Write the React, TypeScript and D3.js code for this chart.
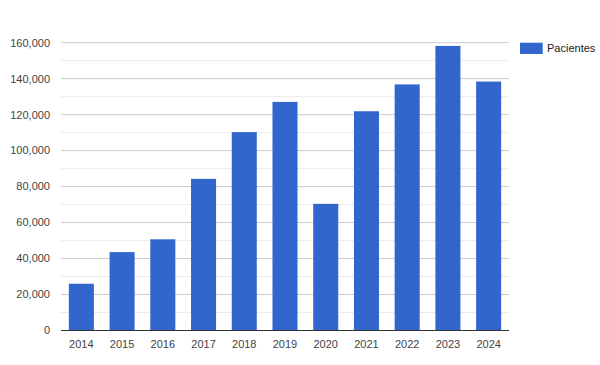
import React from 'react';
import * as d3 from 'd3';

const years = ['2014', '2015', '2016', '2017', '2018', '2019', '2020', '2021', '2022', '2023', '2024'];
const pacientes = [26000, 43600, 50700, 84300, 110300, 127100, 70400, 121900, 136800, 158200, 138400];
const yTicks = [0, 20000, 40000, 60000, 80000, 100000, 120000, 140000, 160000];
const seriesName = 'Pacientes';

const App = () => {
  const width = 600;
  const height = 365;
  const margin = { top: 42.7, right: 91, bottom: 34.5, left: 61 };

  const x = d3.scaleBand()
    .domain(years)
    .range([margin.left, width - margin.right])
    .paddingInner(0.385)
    .paddingOuter(0.1925);

  const y = d3.scaleLinear()
    .domain([0, 160000])
    .range([height - margin.bottom, margin.top]);

  // minor gridlines halfway between the labelled ones
  const minorTicks = d3.range(10000, 160000, 20000);
  const fmt = d3.format(',');
  const font = 'Arial, "Liberation Sans", sans-serif';

  return (
    <svg width={width} height={height} style={{ position: 'absolute', left: 0, top: 0, background: '#fff' }}>
      <g>
        {minorTicks.map(t => (
          <line key={'m' + t} x1={margin.left} x2={width - margin.right} y1={y(t)} y2={y(t)} stroke="#ebebeb" />
        ))}
        {yTicks.filter(t => t > 0).map(t => (
          <line key={'g' + t} x1={margin.left} x2={width - margin.right} y1={y(t)} y2={y(t)} stroke="#cccccc" />
        ))}
      </g>
      <g>
        {years.map((yr, i) => (
          <rect key={yr} x={x(yr)} y={y(pacientes[i])} width={x.bandwidth()} height={y(0) - y(pacientes[i])} fill="#3366cc" />
        ))}
      </g>
      <line x1={margin.left} x2={width - margin.right} y1={y(0)} y2={y(0)} stroke="#333" />
      <g fontFamily={font} fontSize={11} fill="#444">
        {yTicks.map(t => (
          <text key={'y' + t} x={50} y={y(t)} dy="0.35em" textAnchor="end">{fmt(t)}</text>
        ))}
        {years.map(yr => (
          <text key={'x' + yr} x={(x(yr) as number) + x.bandwidth() / 2} y={348.4} textAnchor="middle">{yr}</text>
        ))}
      </g>
      <g>
        <rect x={520} y={42.7} width={22.7} height={11.3} fill="#3366cc" />
        <text x={547} y={48.5} dy="0.35em" fontFamily={font} fontSize={11} fill="#222">{seriesName}</text>
      </g>
    </svg>
  );
};

export default App;
